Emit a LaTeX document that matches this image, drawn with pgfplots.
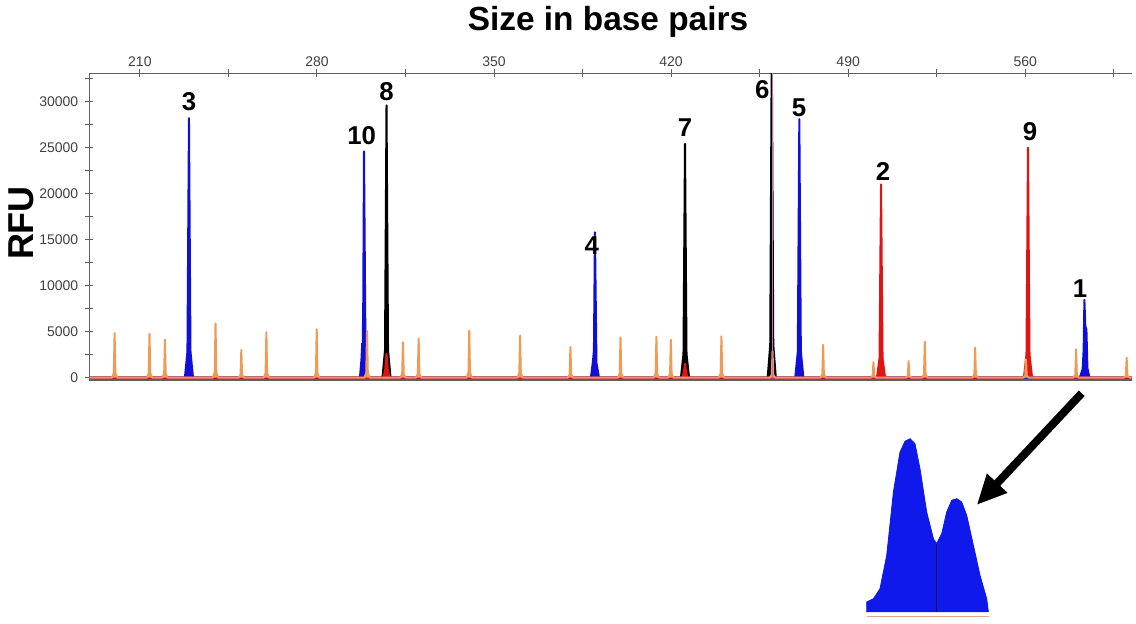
\documentclass[border=0pt]{standalone}
\usepackage{fontspec}
\setmainfont{Liberation Sans}
\usepackage{pgfplots}
\pgfplotsset{compat=1.18}
\usetikzlibrary{arrows.meta}

\definecolor{pkblue}{RGB}{15,15,215}
\definecolor{pkred}{RGB}{225,20,20}
\definecolor{pkorange}{RGB}{240,155,85}
\definecolor{axgray}{RGB}{95,95,95}
\definecolor{insetblue}{RGB}{15,25,235}

\newcommand{\pk}{\fontsize{12.9}{14}\selectfont\bfseries}

\begin{document}
\begin{tikzpicture}
\useasboundingbox (0,0) rectangle (568pt,311.5pt);

\begin{axis}[
  at={(44.65pt,121.5pt)}, anchor=south west,
  width=521.2pt, height=153.35pt, scale only axis,
  xmin=190, xmax=602.1, ymin=-272, ymax=33083,
  axis x line*=top, axis y line*=left,
  xtick={210,280,...,560}, minor xtick={245,315,...,595},
  ytick={0,5000,...,30000}, minor ytick={2500,7500,...,32500},
  scaled y ticks=false,
  tick align=center, major tick length=4pt, minor tick length=4pt,
  tick style={axgray, line width=0.5pt},
  axis line style={axgray, line width=0.6pt},
  ticklabel style={font=\fontsize{7}{8}\selectfont, text=black!75},
  xticklabel style={yshift=-2pt},
  /pgf/number format/1000 sep={},
  /pgf/number format/assume math mode=true,
  clip mode=individual,
]
% black
\addplot[draw=black, fill=black, line width=1pt, line join=round] coordinates {
(190,0)
(305.9,0)(306.9,2960)(307.5,29600)(308.1,2960)(309.1,0)
(423.9,0)(424.9,2540)(425.5,25400)(426.1,2540)(427.1,0)
(458.2,0)(459.2,3600)(459.8,36000)(460.4,3600)(461.4,0)
(602.1,0)};
% blue
\addplot[draw=pkblue, fill=pkblue, line width=1pt, line join=round] coordinates {
(190,0)
(227.8,0)(228.8,2820)(229.4,28200)(230.0,2820)(231.0,0)
(297.0,0)(297.6,2000)(297.9,3700)(298.1,3700)(298.3,8000)(298.6,24600)(299.2,2460)(300.2,0)
(388.3,0)(389.0,1500)(389.3,2300)(389.5,3000)(389.9,15800)(390.5,1580)(391.5,0)
(469.1,0)(470.1,2810)(470.7,28100)(471.3,2810)(472.3,0)
(581.6,0)(582.7,900)(583.1,3000)(583.4,8450)(583.75,5600)(584.2,5200)(584.6,1000)(585.4,0)
(602.1,0)};
% red
\addplot[draw=pkred, fill=pkred, line width=1pt, line join=round] coordinates {
(190,0)
(306.3,0)(307.0,900)(307.5,2600)(308.0,900)(308.7,0)
(424.4,0)(425.0,500)(425.5,1500)(426.0,500)(426.6,0)
(501.4,0)(502.4,2100)(503.0,21000)(503.6,2100)(504.6,0)
(559.5,0)(560.5,2500)(561.1,25000)(561.7,2500)(562.7,0)
(602.1,0)};
% orange size standard
\addplot[draw=pkorange, fill=pkorange, line width=1pt, line join=round] coordinates {
(190,0)
(199,0)(199.7,483)(200,4830)(200.3,483)(201,0)
(212.8,0)(213.5,476)(213.8,4755)(214.1,476)(214.8,0)
(218.9,0)(219.6,413)(219.9,4125)(220.2,413)(220.9,0)
(238.9,0)(239.6,588)(239.9,5875)(240.2,588)(240.9,0)
(249.1,0)(249.8,300)(250.1,3000)(250.4,300)(251.1,0)
(259,0)(259.7,493)(260,4930)(260.3,493)(261,0)
(278.9,0)(279.6,525)(279.9,5245)(280.2,525)(280.9,0)
(298.8,0)(299.5,507)(299.8,5070)(300.1,507)(300.8,0)
(313,0)(313.7,385)(314,3850)(314.3,385)(315,0)
(319.2,0)(319.9,423)(320.2,4230)(320.5,423)(321.2,0)
(339.2,0)(339.9,510)(340.2,5100)(340.5,510)(341.2,0)
(359.3,0)(360,455)(360.3,4545)(360.6,455)(361.3,0)
(379.2,0)(379.9,332)(380.2,3320)(380.5,332)(381.2,0)
(399,0)(399.7,435)(400,4350)(400.3,435)(401,0)
(413.2,0)(413.9,444)(414.2,4440)(414.5,444)(415.2,0)
(418.9,0)(419.6,411)(419.9,4110)(420.2,411)(420.9,0)
(438.9,0)(439.6,448)(439.9,4480)(440.2,448)(440.9,0)
(459.1,0)(459.8,289)(460.1,2890)(460.4,289)(461.1,0)
(479.1,0)(479.8,355)(480.1,3550)(480.4,355)(481.1,0)
(499,0)(499.7,167)(500,1670)(500.3,167)(501,0)
(512.9,0)(513.6,178)(513.9,1780)(514.2,178)(514.9,0)
(519.3,0)(520,389)(520.3,3890)(520.6,389)(521.3,0)
(539.2,0)(539.9,326)(540.2,3260)(540.5,326)(541.2,0)
(559.3,0)(560,196)(560.3,1960)(560.6,196)(561.3,0)
(579.1,0)(579.8,307)(580.1,3070)(580.4,307)(581.1,0)
(599.1,0)(599.8,215)(600.1,2150)(600.4,215)(601.1,0)
(602.1,0)};
% marker line on peak 6
\addplot[draw=violet!55, line width=0.35pt] coordinates {(460.1,0)(460.1,33083)};

\draw[axgray, line width=0.6pt] (rel axis cs:0,0) -- (rel axis cs:1,0);

\node[font=\pk] at (axis cs:229.4,29960) {3};
\node[font=\pk] at (axis cs:297.7,26300) {10};
\node[font=\pk] at (axis cs:307.5,31080) {8};
\node[font=\pk] at (axis cs:388.7,14300) {4};
\node[font=\pk] at (axis cs:425.5,27140) {7};
\node[font=\pk] at (axis cs:456.1,31300) {6};
\node[font=\pk] at (axis cs:470.6,29310) {5};
\node[font=\pk] at (axis cs:503.8,22350) {2};
\node[font=\pk] at (axis cs:561.9,26700) {9};
\node[font=\pk] at (axis cs:581.7,9620) {1};
\end{axis}

% inset: enlarged peak 1
\begin{axis}[
  at={(433.35pt,2.5pt)}, anchor=south west,
  width=62.5pt, height=93pt, scale only axis,
  xmin=0, xmax=125, ymin=-6, ymax=180,
  axis lines=none, clip=false,
]
\addplot[draw=insetblue, fill=insetblue, line width=0.4pt] coordinates {
(0,0)(0,10)(6.7,13.3)(13.3,23.3)(20,56.7)(26.7,120)(33.3,160)(38.3,170.7)
(43.3,173.3)(48.3,168.3)(53.3,143.3)(60,100)(66.7,73.3)(70,68.3)(75,78.3)
(80,100)(85,111.7)(90,113.3)(95,110)(100,96.7)(106.7,66.7)(113.3,36.7)
(120,13.3)(121.7,0)};
\addplot[draw={rgb,255:red,40;green,10;blue,70}, line width=0.5pt] coordinates {(70,0)(70,68.3)};
\addplot[draw={rgb,255:red,225;green,165;blue,140}, line width=0.9pt] coordinates {(0,-4.5)(122,-4.5)};
\end{axis}

\draw[line width=4pt, -{Triangle[length=15pt,width=13pt]}] (540.85pt,114.85pt) -- (488.35pt,59pt);

\node[font=\fontsize{16.7}{20}\selectfont\bfseries] at (304pt,300.5pt) {Size in base pairs};
\node[font=\fontsize{18}{20}\selectfont\bfseries, rotate=90] at (10.85pt,200pt) {RFU};
\end{tikzpicture}
\end{document}
